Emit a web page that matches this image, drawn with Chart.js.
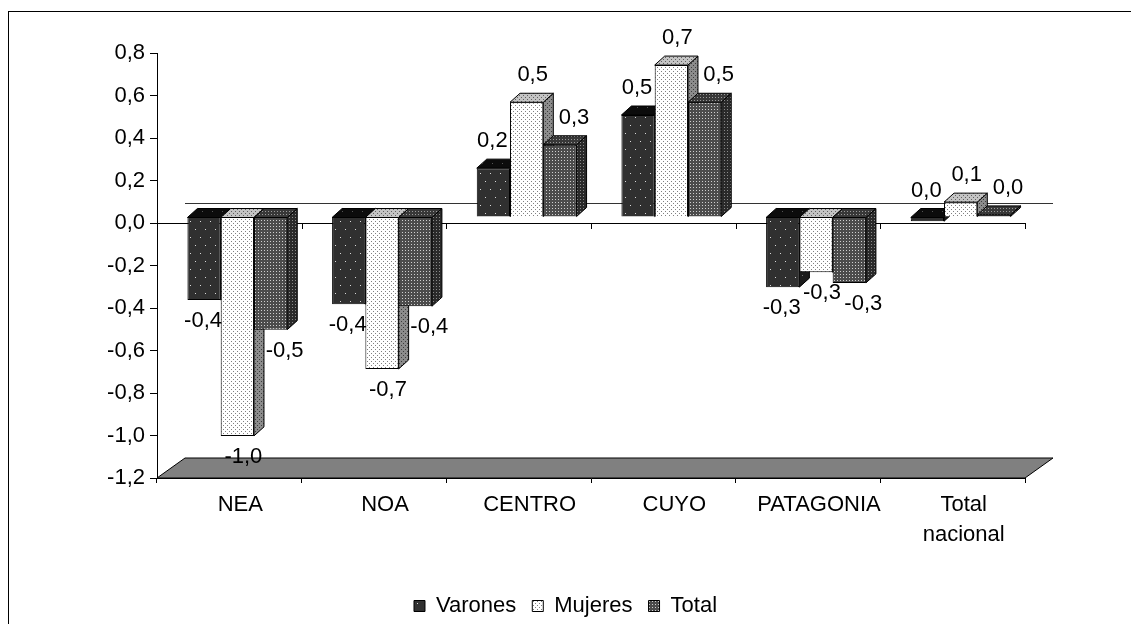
<!DOCTYPE html>
<html>
<head>
<meta charset="utf-8">
<script src="https://cdn.jsdelivr.net/npm/chart.js@4.4.0/dist/chart.umd.min.js"></script>
<style>
  body { margin: 0; background: #fff; }
</style>
</head>
<body>
<canvas id="chart" width="1131" height="624"></canvas>
<script>
// datos
const regiones = ['NEA', 'NOA', 'CENTRO', 'CUYO', 'PATAGONIA', ['Total', 'nacional']];
const varones = [-0.39, -0.41, 0.23, 0.48, -0.33, -0.02];
const mujeres = [-1.03, -0.715, 0.54, 0.715, -0.26, 0.07];
const total = [-0.53, -0.42, 0.34, 0.54, -0.31, 0.01];
const yMin = -1.2, yMax = 0.8, yStep = 0.2;

// 3d look (Excel style)
const FRONT = { dx: 8, dy: -6 };      // bar front face inside the box
const BAR_DEPTH = { dx: 10, dy: -9 };
const BOX_DEPTH = { dx: 28, dy: -20 };
const LABEL_DX = [-1, 6, 14];
const FONT_SIZE = 22;

function fmt(v) {
  let r = Math.round(v * 10) / 10;
  if (Object.is(r, -0)) r = 0;
  return r.toFixed(1).replace('.', ',');
}

function pattern(w, h, bg, dot, dots) {
  const c = document.createElement('canvas');
  c.width = w; c.height = h;
  const g = c.getContext('2d');
  g.fillStyle = bg;
  g.fillRect(0, 0, w, h);
  g.fillStyle = dot;
  dots.forEach(d => g.fillRect(d[0], d[1], 1, 1));
  return g.createPattern(c, 'repeat');
}

const fills = [
  { // Varones
    front: pattern(10, 16, '#303030', '#d8d8d8', [[2, 3], [7, 11]]),
    top: pattern(10, 16, '#0c0c0c', '#555', [[2, 3], [7, 11]]),
    side: pattern(10, 16, '#1c1c1c', '#777', [[2, 3], [7, 11]])
  },
  { // Mujeres
    front: pattern(4, 4, '#ffffff', '#808080', [[1, 1], [3, 3]]),
    top: pattern(4, 4, '#c4c4c4', '#606060', [[1, 1], [3, 3]]),
    side: pattern(4, 4, '#8c8c8c', '#3c3c3c', [[1, 1], [3, 3]])
  },
  { // Total
    front: pattern(3, 3, '#4c4c4c', '#cfcfcf', [[1, 1]]),
    top: pattern(3, 3, '#383838', '#9a9a9a', [[1, 1]]),
    side: pattern(3, 3, '#2a2a2a', '#8a8a8a', [[1, 1]])
  }
];

function face(ctx, pts, fill) {
  ctx.beginPath();
  pts.forEach((p, k) => k ? ctx.lineTo(p[0], p[1]) : ctx.moveTo(p[0], p[1]));
  ctx.closePath();
  ctx.fillStyle = fill;
  ctx.fill();
  ctx.strokeStyle = '#000';
  ctx.lineWidth = 1;
  ctx.stroke();
}

const bars3d = {
  id: 'bars3d',
  beforeDraw(chart) {
    const ctx = chart.ctx;
    ctx.save();
    ctx.strokeStyle = '#000';
    ctx.lineWidth = 1;
    ctx.strokeRect(8.5, 11.5, 2000, 2000);
    ctx.restore();
  },
  beforeDatasetsDraw(chart) {
    const { ctx, chartArea: a, scales: { x, y } } = chart;
    ctx.save();
    // floor
    const fy = y.getPixelForValue(yMin);
    face(ctx, [[a.left, fy], [a.left + BOX_DEPTH.dx, fy + BOX_DEPTH.dy],
      [a.right + BOX_DEPTH.dx, fy + BOX_DEPTH.dy], [a.right, fy]], '#808080');
    // zero line on the back wall + ticks on the front zero line
    const zy = y.getPixelForValue(0);
    ctx.strokeStyle = '#333';
    ctx.beginPath();
    ctx.moveTo(a.left + BOX_DEPTH.dx, zy + BOX_DEPTH.dy + 0.5);
    ctx.lineTo(a.right + BOX_DEPTH.dx, zy + BOX_DEPTH.dy + 0.5);
    ctx.stroke();
    ctx.strokeStyle = '#000';
    for (let i = 1; i <= regiones.length; i++) {
      const xb = Math.round(x.getPixelForValue(i - 0.5)) + 0.5;
      ctx.beginPath();
      ctx.moveTo(xb, zy);
      ctx.lineTo(xb, zy + 6);
      ctx.stroke();
    }
    // bars, left series first so the next one hides its side
    chart.data.datasets.forEach((ds, i) => {
      const meta = chart.getDatasetMeta(i);
      ctx.save();
      ctx.translate(FRONT.dx, FRONT.dy);
      meta.controller.draw();
      ctx.restore();
      meta.data.forEach(el => {
        const p = el.getProps(['x', 'y', 'base', 'width'], true);
        const L = p.x - p.width / 2 + FRONT.dx, R = p.x + p.width / 2 + FRONT.dx;
        const T = Math.min(p.y, p.base) + FRONT.dy, B = Math.max(p.y, p.base) + FRONT.dy;
        const dx = BAR_DEPTH.dx, dy = BAR_DEPTH.dy;
        face(ctx, [[R, T], [R + dx, T + dy], [R + dx, B + dy], [R, B]], fills[i].side);
        face(ctx, [[L, T], [L + dx, T + dy], [R + dx, T + dy], [R, T]], fills[i].top);
      });
    });
    ctx.restore();
  },
  beforeDatasetDraw() {
    return false;
  },
  afterDatasetsDraw(chart) {
    const ctx = chart.ctx;
    ctx.save();
    ctx.font = FONT_SIZE + 'px "Liberation Sans", Arial, sans-serif';
    ctx.fillStyle = '#000';
    ctx.textAlign = 'center';
    ctx.textBaseline = 'middle';
    chart.data.datasets.forEach((ds, i) => {
      chart.getDatasetMeta(i).data.forEach((el, j) => {
        const v = ds.data[j];
        const p = el.getProps(['x', 'y', 'base'], true);
        const T = Math.min(p.y, p.base) + FRONT.dy, B = Math.max(p.y, p.base) + FRONT.dy;
        const up = Math.round(v * 10) >= 0;
        ctx.fillText(fmt(v), p.x + FRONT.dx + LABEL_DX[i], up ? T - 27 : B + 21);
      });
    });
    ctx.restore();
  }
};

Chart.defaults.font.family = '"Liberation Sans", Arial, sans-serif';
Chart.defaults.font.size = FONT_SIZE;
Chart.defaults.color = '#000';

new Chart(document.getElementById('chart'), {
  type: 'bar',
  data: {
    labels: regiones,
    datasets: [
      { label: 'Varones', data: varones, backgroundColor: fills[0].front },
      { label: 'Mujeres', data: mujeres, backgroundColor: fills[1].front },
      { label: 'Total', data: total, backgroundColor: fills[2].front }
    ]
  },
  options: {
    responsive: false,
    animation: false,
    devicePixelRatio: 1,
    datasets: {
      bar: {
        borderColor: '#000',
        borderWidth: 1,
        categoryPercentage: 0.69,
        barPercentage: 1
      }
    },
    layout: { padding: { top: 53, left: 0, right: 0, bottom: -3 } },
    plugins: {
      tooltip: { enabled: false },
      legend: {
        position: 'bottom',
        labels: {
          boxWidth: 11,
          boxHeight: 11,
          padding: 16,
          font: { size: FONT_SIZE },
          color: '#000'
        }
      }
    },
    scales: {
      x: {
        grid: { offset: true, drawOnChartArea: false, tickLength: 5, color: '#000' },
        border: { color: '#000' },
        ticks: { padding: 7, labelOffset: 11, maxRotation: 0, font: { size: FONT_SIZE, lineHeight: 1.36 } },
        afterFit: s => { s.height = 101; }
      },
      y: {
        min: yMin,
        max: yMax,
        grid: {
          color: c => Math.abs(c.tick.value) < 1e-9 ? '#000' : 'rgba(0,0,0,0)',
          tickColor: '#000',
          tickLength: 7
        },
        border: { color: '#000' },
        ticks: { stepSize: yStep, padding: 5, callback: v => fmt(v) },
        afterFit: s => { s.width = 157; }
      },
      yR: {
        type: 'linear',
        position: 'right',
        grid: { display: false },
        border: { display: false },
        ticks: { display: false },
        afterFit: s => { s.width = 106; }
      }
    }
  },
  plugins: [bars3d]
});
</script>
</body>
</html>
